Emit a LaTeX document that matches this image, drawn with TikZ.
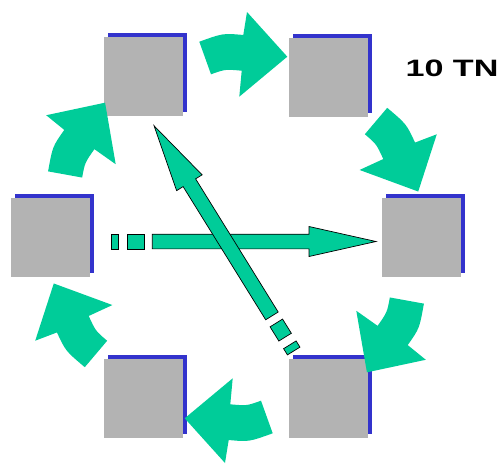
\documentclass[tikz,border=0pt]{standalone}
\usepackage{fontspec}
\setmainfont{Liberation Sans}
\usepackage{graphicx}
\usetikzlibrary{shadows}
\definecolor{grn}{RGB}{0,204,153}
\definecolor{gry}{RGB}{179,179,179}
\definecolor{blu}{RGB}{51,51,204}
\begin{document}
\begin{tikzpicture}[x=1pt,y=-1pt,
  gbox/.style={rectangle, minimum size=79pt, inner sep=0pt, fill=gry,
    general shadow={fill=blu, shadow xshift=4.3pt, shadow yshift=4pt}},
  sarrow/.style={fill=grn, draw=black, line width=0.7pt, line join=miter},
  curvarrow/.pic={
    \fill[grn] (-36.7,-195.8) .. controls (-12.9,-204.35) .. (7.3,-202.5)
      -- (11,-225.5) -- (51.3,-180.8) -- (3.3,-140.8) -- (5.7,-166.8)
      .. controls (-10.8,-168.3) .. (-25,-163.2) -- cycle;
  },
  strarrow/.pic={
    \filldraw[sarrow] (0,-7.35) rectangle (7.3,7.35);
    \filldraw[sarrow] (16.3,-7.35) rectangle (33,7.35);
    \filldraw[sarrow] (41.3,-7.35) -- (198,-7.35) -- (198,-15) -- (265,0)
      -- (198,15) -- (198,7.35) -- (41.3,7.35) -- cycle;
  }]
\useasboundingbox (0,0) rectangle (499,464);
\coordinate (C) at (236,237.5);
% boxes
\node[gbox] (b1) at (143.5,76.8) {};
\node[gbox] (b2) at (328.5,77.5) {};
\node[gbox] (b3) at (421.3,237.5) {};
\node[gbox] (b4) at (328.5,398.3) {};
\node[gbox] (b5) at (143.5,398.3) {};
\node[gbox] (b6) at (50.5,237.5) {};
% curved arrows
\pic at (C) {curvarrow};
\pic[rotate=-60] at (C) {curvarrow};
\pic[rotate=-120] at (C) {curvarrow};
\pic[rotate=-180] at (C) {curvarrow};
\pic[rotate=-240] at (C) {curvarrow};
\pic[rotate=-300] at (C) {curvarrow};
% straight arrows
\coordinate (h0) at (111,241.5);
\coordinate (d0) at (293.7,351);
\pic at (h0) {strarrow};
\pic[rotate=121.8] at (d0) {strarrow};
% label
\node[inner sep=0pt, font=\fontsize{23.7}{24}\selectfont\bfseries] (lbl) at (452,68.5) {\scalebox{1.44}[1]{10 TN}};
\end{tikzpicture}
\end{document}
